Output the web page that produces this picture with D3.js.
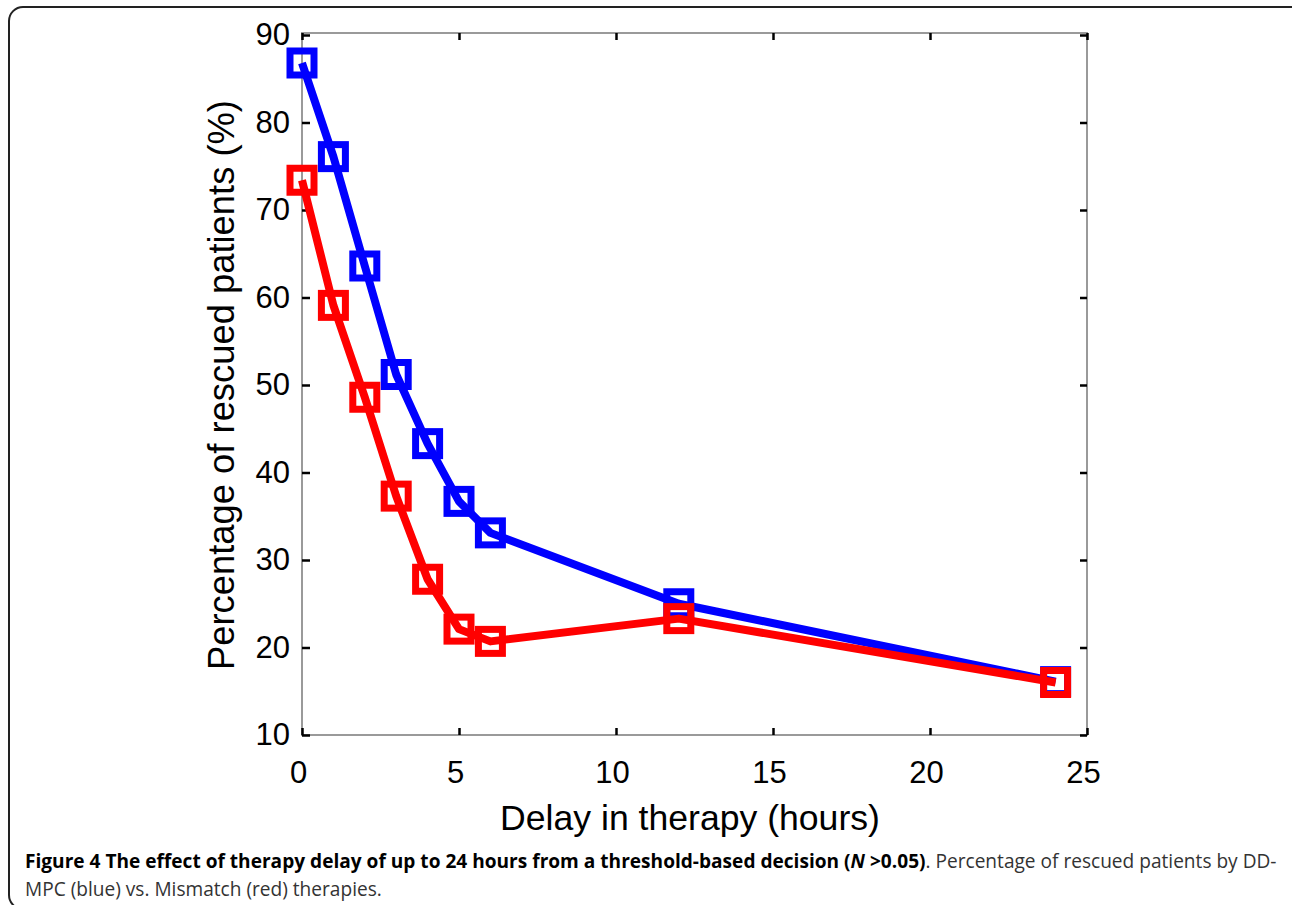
<!DOCTYPE html>
<html><head><meta charset="utf-8">
<script src="https://cdn.jsdelivr.net/npm/d3@7/dist/d3.min.js"></script>
<style>body{margin:0;background:#fff}svg{display:block}</style>
</head><body>
<svg id="c" width="1292" height="905"></svg>
<script>
const delays = [0, 1, 2, 3, 4, 5, 6, 12, 24];
const ddmpc = [86.8, 76.1, 63.6, 51.2, 43.3, 36.7, 33.1, 25.0, 16.1];
const mismatch = [73.4, 59.1, 48.6, 37.3, 27.8, 22.1, 20.7, 23.3, 16.0];
const xTicks = [0, 5, 10, 15, 20, 25];
const yTicks = [10, 20, 30, 40, 50, 60, 70, 80, 90];
const seriesNames = ["DD-MPC", "Mismatch"];
const seriesColors = ["#0000ff", "#ff0000"];

const svg = d3.select("#c");
const L = 302, R = 1087, T = 35, B = 735;
const x = d3.scaleLinear().domain([0, 25]).range([L, R]);
const y = d3.scaleLinear().domain([10, 90]).range([B, T]);

// frame
svg.append("rect").attr("x", 9).attr("y", 7).attr("width", 1300).attr("height", 902)
  .attr("rx", 14).attr("fill", "none").attr("stroke", "#222").attr("stroke-width", 2);

// axes box
const g = svg.append("g");
g.append("rect").attr("x", L).attr("y", 33).attr("width", R - L).attr("height", B - 33)
  .attr("fill", "none").attr("stroke", "#9a9a9a").attr("stroke-width", 2);

// ticks via d3 axes (inside)
const axStyle = sel => { sel.select(".domain").remove(); sel.selectAll(".tick line").attr("stroke", "#000").attr("stroke-width", 2.5); };
const fontTick = "'Liberation Sans', Arial, sans-serif";
g.append("g").attr("transform", `translate(0,${B})`)
  .call(d3.axisBottom(x).tickValues(xTicks).tickSize(-7).tickPadding(26).tickFormat(d3.format("d")))
  .call(axStyle).call(s => s.selectAll("text").attr("font-size", 31).attr("font-family", fontTick).attr("fill", "#000").attr("dx", -4));
g.append("g").attr("transform", `translate(0,33)`)
  .call(d3.axisTop(x).tickValues(xTicks).tickSize(-7).tickFormat(""))
  .call(axStyle);
g.append("g").attr("transform", `translate(${L},0)`)
  .call(d3.axisLeft(y).tickValues(yTicks).tickSize(-8).tickPadding(12).tickFormat(d3.format("d")))
  .call(axStyle).call(s => s.selectAll("text").attr("font-size", 31).attr("font-family", fontTick).attr("fill", "#000"));
g.append("g").attr("transform", `translate(${R},0)`)
  .call(d3.axisRight(y).tickValues(yTicks).tickSize(-7).tickFormat(""))
  .call(axStyle);

// axis labels
function fit(sel, target) {
  const w = sel.node().getComputedTextLength();
  const fs = parseFloat(sel.attr("font-size"));
  sel.attr("font-size", fs * target / w);
}
const xl = svg.append("text").attr("x", 690).attr("y", 830).attr("text-anchor", "middle")
  .attr("font-family", fontTick).attr("font-size", 36).attr("fill", "#000").text("Delay in therapy (hours)");
fit(xl, 380);
const yl = svg.append("text").attr("transform", "translate(234,385) rotate(-90)").attr("text-anchor", "middle")
  .attr("font-family", fontTick).attr("font-size", 36).attr("fill", "#000").text("Percentage of rescued patients (%)");
fit(yl, 570);

// series
const data = [ddmpc, mismatch];
const line = d3.line().x((d, i) => x(delays[i])).y(d => y(d));
data.forEach((vals, k) => {
  const sg = svg.append("g").attr("class", "series").attr("data-name", seriesNames[k]);
  sg.append("path").attr("d", line(vals)).attr("fill", "none")
    .attr("stroke", seriesColors[k]).attr("stroke-width", 8).attr("stroke-linejoin", "round");
  sg.selectAll("rect").data(vals).join("rect")
    .attr("x", (d, i) => x(delays[i]) - 12).attr("y", d => y(d) - 12)
    .attr("width", 24).attr("height", 24)
    .attr("fill", "none").attr("stroke", seriesColors[k]).attr("stroke-width", 7);
});

// caption (condensed look via horizontal scale)
const capG = svg.append("g");
const cap = capG.append("text").attr("x", 0).attr("y", 868).attr("font-family", "'Open Sans', sans-serif")
  .attr("font-size", 20).attr("fill", "#000");
cap.append("tspan").attr("font-weight", "bold").text("Figure 4 The effect of therapy delay of up to 24 hours from a threshold-based decision (");
cap.append("tspan").attr("font-weight", "bold").attr("font-style", "italic").text("N");
cap.append("tspan").attr("font-weight", "bold").text(" >0.05)");
cap.append("tspan").attr("fill", "#333").text(". Percentage of rescued patients by DD-");
const sx = 1252 / cap.node().getComputedTextLength();
capG.attr("transform", `translate(25,0) scale(${sx},1)`);
capG.append("text").attr("x", 0).attr("y", 896).attr("font-family", "'Open Sans', sans-serif")
  .attr("font-size", 20).attr("fill", "#333").text("MPC (blue) vs. Mismatch (red) therapies.");
</script>
</body></html>
